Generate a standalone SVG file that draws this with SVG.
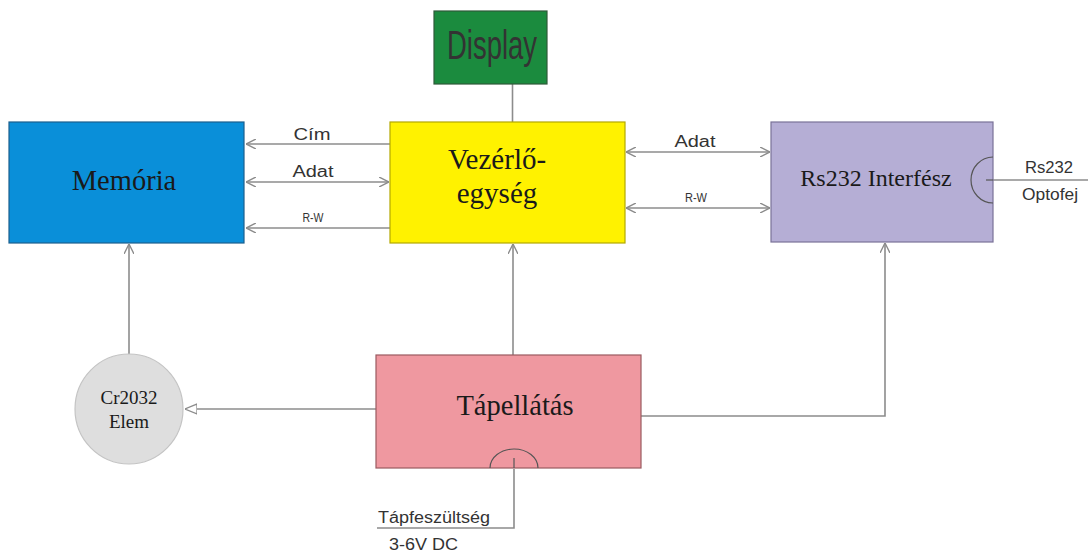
<svg xmlns="http://www.w3.org/2000/svg" width="1088" height="553" viewBox="0 0 1088 553">
<style>
.box{stroke-width:1.2}
.serif{font-family:"Liberation Serif","Times New Roman",serif;fill:#1a1a1a}
.sans{font-family:"Liberation Sans",Arial,sans-serif;fill:#333}
.ln{fill:none;stroke:#8c8c8c;stroke-width:1.6}
.dk{fill:none;stroke:#555;stroke-width:1.2}
</style>
<defs>
<marker id="ah" viewBox="0 0 10 10" refX="10" refY="5" markerWidth="10" markerHeight="10" markerUnits="userSpaceOnUse" orient="auto-start-reverse">
<path d="M0,0 L10,5 L0,10" fill="none" stroke="#8c8c8c" stroke-width="1.4"/>
</marker>
<marker id="tri" viewBox="0 0 12 12" refX="12" refY="6" markerWidth="12" markerHeight="12" markerUnits="userSpaceOnUse" orient="auto">
<path d="M0,1 L12,6 L0,11 Z" fill="#fff" stroke="#8c8c8c" stroke-width="1.3"/>
</marker>
</defs>
<g id="connectors">
<line class="ln" x1="512.5" y1="84" x2="512.5" y2="122" stroke="#c8c8c8"/>
<line class="ln" x1="390" y1="144" x2="246" y2="144" marker-end="url(#ah)"/>
<line class="ln" x1="246" y1="182" x2="389" y2="182" marker-start="url(#ah)" marker-end="url(#ah)"/>
<line class="ln" x1="390" y1="228" x2="246" y2="228" marker-end="url(#ah)"/>
<line class="ln" x1="626" y1="152" x2="770" y2="152" marker-start="url(#ah)" marker-end="url(#ah)"/>
<line class="ln" x1="626" y1="208" x2="770" y2="208" marker-start="url(#ah)" marker-end="url(#ah)"/>
<line class="ln" x1="129" y1="354" x2="129" y2="244" marker-end="url(#ah)"/>
<line class="ln" x1="513" y1="355" x2="513" y2="244" marker-end="url(#ah)"/>
<line class="ln" x1="376" y1="409" x2="185" y2="409" marker-end="url(#tri)"/>
<polyline class="ln" points="641,416 885,416 885,243" marker-end="url(#ah)"/>
<line class="ln" x1="993" y1="180" x2="1088" y2="180"/>
<polyline class="ln" points="514,469 514,528 377,528"/>
</g>
<g id="display">
<rect class="box" x="434" y="11" width="113" height="73" fill="#1b8b3e" stroke="#2f5a3a"/>
<text class="sans" x="447" y="59" font-size="40" textLength="90" lengthAdjust="spacingAndGlyphs" fill="#101810">Display</text>
</g>
<g id="memoria">
<rect class="box" x="9" y="122" width="235" height="121" fill="#0a8fd9" stroke="#1b5f8e"/>
<text class="serif" x="124" y="190" font-size="28.5" text-anchor="middle" fill="#152035">Memória</text>
</g>
<g id="vezerlo">
<rect class="box" x="390" y="122" width="235" height="121" fill="#fff200" stroke="#b3a800"/>
<text class="serif" x="497" y="169" font-size="29" text-anchor="middle">Vezérlő-</text>
<text class="serif" x="497" y="203" font-size="29" text-anchor="middle">egység</text>
</g>
<g id="rs232">
<rect class="box" x="771" y="122" width="222" height="120" fill="#b5aed5" stroke="#7a7298"/>
<text class="serif" x="876" y="186" font-size="24" text-anchor="middle" fill="#1e1a30">Rs232 Interfész</text>
<path class="dk" d="M993,157 A22,23 0 0 0 993,203"/>
<line class="dk" x1="986" y1="180" x2="993" y2="180"/>
</g>
<g id="tapellatas">
<rect class="box" x="376" y="355" width="265" height="113" fill="#ef98a0" stroke="#9a5a60"/>
<text class="serif" x="515" y="415" font-size="28.5" text-anchor="middle" fill="#2a1216">Tápellátás</text>
<path class="dk" d="M490,468 A24,19 0 0 1 538,468"/>
<line class="dk" x1="514" y1="458" x2="514" y2="468"/>
</g>
<g id="cr2032">
<ellipse cx="129" cy="409" rx="54" ry="55" fill="#dedede" stroke="#c4c4c4" stroke-width="1.2"/>
<text class="serif" x="129" y="404" font-size="19" text-anchor="middle" fill="#333">Cr2032</text>
<text class="serif" x="129" y="428" font-size="19" text-anchor="middle" fill="#333">Elem</text>
</g>
<g id="labels">
<text class="sans" x="312" y="140" font-size="16" text-anchor="middle" textLength="37" lengthAdjust="spacingAndGlyphs">Cím</text>
<text class="sans" x="313" y="177" font-size="16" text-anchor="middle" textLength="41" lengthAdjust="spacingAndGlyphs">Adat</text>
<text class="sans" x="313" y="222" font-size="12" text-anchor="middle" textLength="21" lengthAdjust="spacingAndGlyphs">R-W</text>
<text class="sans" x="695" y="147" font-size="16" text-anchor="middle" textLength="41" lengthAdjust="spacingAndGlyphs">Adat</text>
<text class="sans" x="696" y="202" font-size="12" text-anchor="middle" textLength="22" lengthAdjust="spacingAndGlyphs">R-W</text>
<text class="sans" x="1049" y="173" font-size="16" text-anchor="middle" textLength="48" lengthAdjust="spacingAndGlyphs">Rs232</text>
<text class="sans" x="1050" y="200" font-size="16" text-anchor="middle" textLength="56" lengthAdjust="spacingAndGlyphs">Optofej</text>
<text class="sans" x="378" y="523" font-size="16" textLength="112" lengthAdjust="spacingAndGlyphs">Tápfeszültség</text>
<text class="sans" x="389" y="550" font-size="16" textLength="69" lengthAdjust="spacingAndGlyphs">3-6V DC</text>
</g>
</svg>
